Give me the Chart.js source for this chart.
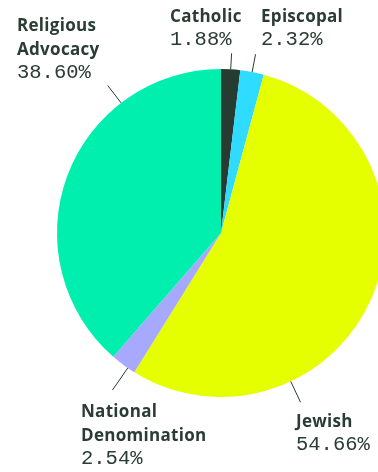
<!DOCTYPE html>
<html>
<head>
<meta charset="utf-8">
<script src="https://cdn.jsdelivr.net/npm/chart.js@4"></script>
<style>
  html, body { margin: 0; padding: 0; background: #fff; }
  #wrap { width: 378px; height: 472px; overflow: hidden; position: relative; }
  canvas { display: block; }
</style>
</head>
<body>
<div id="wrap"><canvas id="pieChart" width="400" height="472"></canvas></div>
<script>
// Datos del gráfico
const categories = ['Catholic', 'Episcopal', 'Jewish', 'National Denomination', 'Religious Advocacy'];
const shares = [1.88, 2.32, 54.66, 2.54, 38.60];
const sliceColors = ['#263c32', '#2fdcff', '#e5ff00', '#a7a9ff', '#00efaf'];

// Etiquetas: líneas de texto, posición y línea guía
const labelLines = [
    ['Catholic'],
    ['Episcopal'],
    ['Jewish'],
    ['National', 'Denomination'],
    ['Religious', 'Advocacy']
];
const labelLayout = [
    { x: 170, y: 22, frac: 0.5, len: 16 },
    { x: 261, y: 22, frac: 0.5, len: 18 },
    { x: 296, y: 427, frac: 0.71, len: 23 },
    { x: 81, y: 417, frac: 0.3, len: 27 },
    { x: 17, y: 31, frac: 0.73, len: 22 }
];

const INK = '#2a3c33';

const outsideLabels = {
    id: 'outsideLabels',
    afterDatasetsDraw(chart) {
        const ctx = chart.ctx;
        const arcs = chart.getDatasetMeta(0).data;
        ctx.save();
        arcs.forEach((arc, i) => {
            const lay = labelLayout[i];
            const a = arc.startAngle + lay.frac * (arc.endAngle - arc.startAngle);
            const r = arc.outerRadius;
            ctx.strokeStyle = INK;
            ctx.lineWidth = 1;
            ctx.beginPath();
            ctx.moveTo(arc.x + r * Math.cos(a), arc.y + r * Math.sin(a));
            ctx.lineTo(arc.x + (r + lay.len) * Math.cos(a), arc.y + (r + lay.len) * Math.sin(a));
            ctx.stroke();

            ctx.fillStyle = INK;
            ctx.textAlign = 'left';
            ctx.textBaseline = 'alphabetic';
            ctx.font = 'bold 17px "Open Sans"';
            ctx.letterSpacing = '0.3px';
            let y = lay.y;
            labelLines[i].forEach(t => {
                ctx.fillText(t, lay.x, y);
                y += 24;
            });
            ctx.letterSpacing = '0px';
            ctx.font = '20.5px "Liberation Mono"';
            ctx.fillText(shares[i].toFixed(2) + '%', lay.x, y - 1);
        });
        ctx.restore();
    }
};

new Chart(document.getElementById('pieChart'), {
    type: 'pie',
    data: {
        labels: categories,
        datasets: [{
            data: shares,
            backgroundColor: sliceColors,
            borderWidth: 0,
            hoverBorderWidth: 0,
            hoverOffset: 0
        }]
    },
    options: {
        responsive: false,
        animation: false,
        events: [],
        layout: {
            padding: { left: 57, top: 69, right: 15, bottom: 75 }
        },
        plugins: {
            legend: { display: false },
            tooltip: { enabled: false }
        }
    },
    plugins: [outsideLabels]
});
</script>
</body>
</html>
